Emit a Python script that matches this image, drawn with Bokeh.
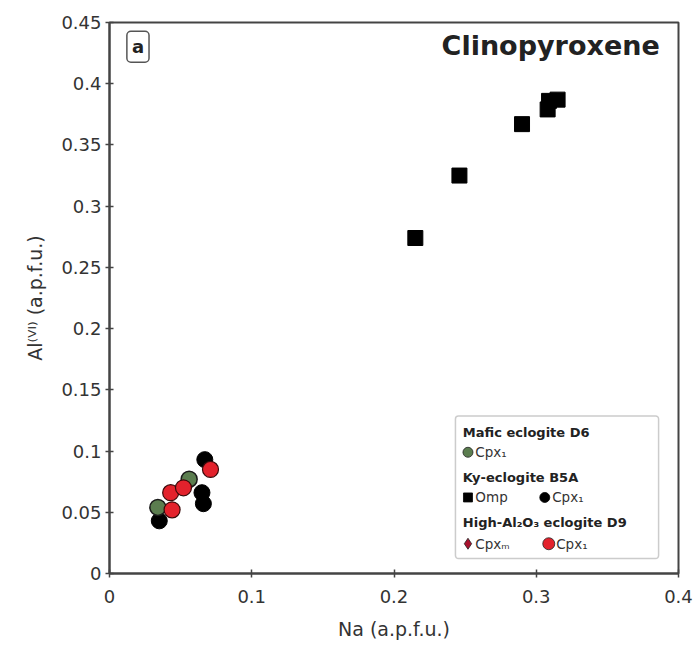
from bokeh.plotting import figure
from bokeh.models import Range1d, FixedTicker, Label, BoxAnnotation
from bokeh.embed import file_html
from bokeh.resources import INLINE

# ---- data (Na vs Al[VI], a.p.f.u.) ----
omp_ky_na = [0.215, 0.246, 0.290, 0.308, 0.309, 0.315]
omp_ky_al = [0.274, 0.325, 0.367, 0.379, 0.386, 0.387]

cpx_ky_na = [0.035, 0.065, 0.066, 0.067]
cpx_ky_al = [0.043, 0.066, 0.057, 0.093]

cpx_mafic_na = [0.034, 0.056]
cpx_mafic_al = [0.054, 0.077]

cpx_hial_na = [0.044, 0.043, 0.052, 0.071]
cpx_hial_al = [0.052, 0.066, 0.070, 0.085]

x_ticks = [0, 0.1, 0.2, 0.3, 0.4]
x_tick_labels = ["0", "0.1", "0.2", "0.3", "0.4"]
y_ticks = [0, 0.05, 0.1, 0.15, 0.2, 0.25, 0.3, 0.35, 0.4, 0.45]
y_tick_labels = ["0", "0.05", "0.1", "0.15", "0.2", "0.25", "0.3", "0.35", "0.4", "0.45"]

FONT = "DejaVu Sans"
TXT = "#222222"
AX = "#444444"
GREEN = "#5b7d4f"
RED = "#e3222c"
DKRED = "#a8122e"

XMAX, YMAX = 0.4, 0.45

p = figure(width=694, height=645, x_range=Range1d(0, XMAX), y_range=Range1d(0, YMAX),
           output_backend="svg", toolbar_location=None,
           min_border_left=109, min_border_right=16, min_border_top=22, min_border_bottom=72)
p.background_fill_color = "white"
p.border_fill_color = "white"
p.xgrid.visible = False
p.ygrid.visible = False
p.outline_line_color = AX
p.outline_line_width = 2

for ax, ticks, labels in ((p.xaxis[0], x_ticks, x_tick_labels), (p.yaxis[0], y_ticks, y_tick_labels)):
    ax.ticker = FixedTicker(ticks=ticks)
    ax.major_label_overrides = {t: l for t, l in zip(ticks, labels)}
    ax.minor_tick_line_color = None
    ax.major_tick_in = 4
    ax.major_tick_out = 4
    ax.axis_line_color = AX
    ax.axis_line_width = 2
    ax.major_tick_line_color = AX
    ax.major_tick_line_width = 1.5
    ax.major_label_text_font = FONT
    ax.major_label_text_font_size = "18px"
    ax.major_label_text_color = "#333333"
    ax.axis_label_text_font = FONT
    ax.axis_label_text_font_size = "19px"
    ax.axis_label_text_font_style = "normal"
    ax.axis_label_text_color = "#333333"

p.xaxis.axis_label = "Na (a.p.f.u.)"
p.xaxis.major_label_standoff = 12
p.xaxis.axis_label_standoff = 12
p.yaxis.axis_label = "Al⁽ⱽᴵ⁾ (a.p.f.u.)"
p.yaxis.major_label_standoff = 4
p.yaxis.axis_label_standoff = 12

# ---- data marks ----
p.scatter(cpx_ky_na, cpx_ky_al, marker="circle", size=16, fill_color="black", line_color="black", line_width=1)
p.scatter(cpx_mafic_na, cpx_mafic_al, marker="circle", size=16, fill_color=GREEN, line_color="#1a1a1a", line_width=1.5)
p.scatter(cpx_hial_na, cpx_hial_al, marker="circle", size=16, fill_color=RED, line_color="#3a0a0a", line_width=1.2)
p.scatter(omp_ky_na, omp_ky_al, marker="square", size=15, fill_color="black", line_color="black")

# ---- decorations: helper converting frame fractions to data coords ----
def fx(f):
    return f * XMAX

def fy(f):
    return f * YMAX

p.add_layout(Label(x=fx(0.05), y=fy(0.956), text="a", text_font=FONT, text_font_size="18px",
                   text_font_style="bold", text_color=TXT, text_align="center", text_baseline="middle",
                   border_line_color="#555555", border_line_width=1.5, background_fill_color="white",
                   padding=5, border_radius=4))
p.add_layout(Label(x=fx(0.967), y=fy(0.958), text="Clinopyroxene", text_font=FONT, text_font_size="27px",
                   text_font_style="bold", text_color=TXT, text_align="right", text_baseline="middle"))

# legend box
p.add_layout(BoxAnnotation(left=fx(0.608), right=fx(0.965), top=fy(0.286), bottom=fy(0.027),
                           fill_color="white", fill_alpha=1, line_color="#555555", line_width=1.5,
                           border_radius=3, level="underlay"))

leg_rows = [0.256, 0.220, 0.174, 0.138, 0.092, 0.054]
hx = 0.621
def head(row, txt):
    p.add_layout(Label(x=fx(hx), y=fy(leg_rows[row]), text=txt, text_font=FONT, text_font_size="13px",
                       text_font_style="bold", text_color=TXT, text_baseline="middle"))

def item(row, col_f, marker, color, txt, size=10):
    p.scatter([fx(col_f)], [fy(leg_rows[row])], marker=marker, size=size, fill_color=color,
              line_color="#222222" if color != "black" else "black", line_width=0.8)
    p.add_layout(Label(x=fx(col_f + 0.013), y=fy(leg_rows[row]), text=txt, text_font=FONT,
                       text_font_size="13.5px", text_color="#333333", text_baseline="middle"))

head(0, "Mafic eclogite D6")
item(1, 0.630, "circle", GREEN, "Cpx₁")
head(2, "Ky-eclogite B5A")
item(3, 0.630, "square", "black", "Omp", size=9)
item(3, 0.765, "circle", "black", "Cpx₁")
head(4, "High-Al₂O₃ eclogite D9")
item(5, 0.630, "diamond", DKRED, "Cpxₘ", size=11)
item(5, 0.772, "circle", RED, "Cpx₁", size=12)

open("out.html", "w").write(file_html(p, INLINE))
